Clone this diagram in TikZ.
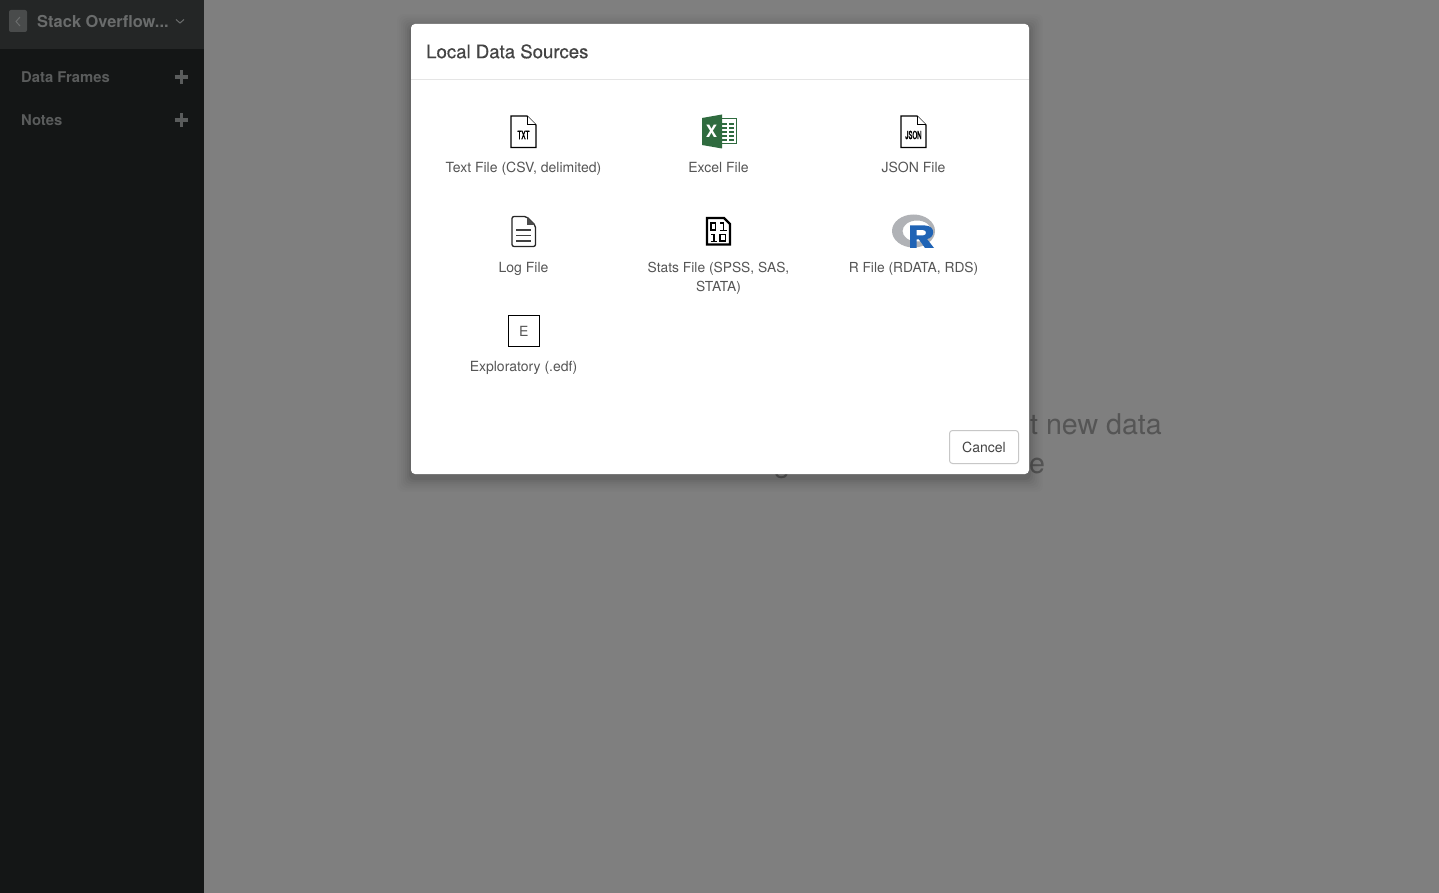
\documentclass[tikz,border=0pt]{standalone}
\usepackage{fontspec}
\setmainfont{TeX Gyre Heros}
\newfontfamily\narrowfont[FakeStretch=0.55,FakeBold=2]{TeX Gyre Heros}
\newfontfamily\semifont[FakeBold=0.5]{TeX Gyre Heros}
\definecolor{bgback}{HTML}{7F7F7F}
\definecolor{sidebar}{HTML}{141616}
\definecolor{sidetop}{HTML}{242626}
\definecolor{sidetxt}{HTML}{5A5C5C}
\definecolor{toptxt}{HTML}{6A6C6C}
\definecolor{backbtn}{HTML}{494B4B}
\definecolor{ghost}{HTML}{555555}
\definecolor{ink}{HTML}{555555}
\definecolor{titleink}{HTML}{444444}
\definecolor{rule}{HTML}{E5E5E5}
\definecolor{xlgreen}{HTML}{2F6B3F}
\definecolor{rgrey}{HTML}{B0B2B6}
\definecolor{rblue}{HTML}{1F63B5}
\tikzset{
  x=1pt,y=-1pt,
  lab/.style={font=\fontsize{14}{19}\selectfont,text=ink,align=center,inner sep=0pt,anchor=base},
  side/.style={font=\fontsize{14.8}{18}\selectfont\bfseries,text=sidetxt,inner sep=0pt,anchor=base west},
  plus/.style={line width=3.4pt,draw=sidetxt},
  doc/.style={draw=black,line width=1.3pt,fill=white,line join=miter},
  docfold/.style={draw=black,line width=1pt,fill=white},
  ghosttxt/.style={font=\fontsize{28.6}{36}\selectfont,text=ghost,inner sep=0pt,anchor=base},
  icontxt/.style={font=\fontsize{11.5}{12}\narrowfont,inner sep=0pt,anchor=center,text=black}
}
\begin{document}
\begin{tikzpicture}
\useasboundingbox (0,0) rectangle (1439,893);
\fill[bgback] (0,0) rectangle (1439,893);
% sidebar
\fill[sidebar] (0,0) rectangle (204,893);
\fill[sidetop] (0,0) rectangle (204,49);
\fill[backbtn,rounded corners=2pt] (9,10) rectangle (27,32);
\draw[toptxt,line width=1pt] (20,17) -- (16,21.5) -- (20,26);
\node[font=\fontsize{16.4}{20}\selectfont\bfseries,text=toptxt,inner sep=0pt,anchor=base west] (proj) at (37,27.8) {Stack Overflow...};
\draw[toptxt,line width=1pt] (176,19.5) -- (180,23) -- (184,19.5);
\node[side] (df) at (21,82.8) {Data Frames};
\node[side] (notes) at (21,125.8) {Notes};
\draw[plus] (174.5,77) -- (188,77) (181.2,70.2) -- (181.2,83.8);
\draw[plus] (174.5,120) -- (188,120) (181.2,113.2) -- (181.2,126.8);
% background message partly behind the dialog
\node[ghosttxt,anchor=base east] (msg1) at (1162,434.5) {t new data};
\node[ghosttxt] (msg2) at (782,472) {g};
\node[ghosttxt] (msg3) at (1037,473.5) {e};
% shadow
\foreach \d/\o in {14/0.012,12/0.016,10/0.02,8/0.025,6/0.03,4/0.04,2/0.05}{
  \fill[black,opacity=\o,rounded corners=6pt] (411-\d,24-\d+4) rectangle (1029+\d,474+\d+4);
}
% dialog
\fill[white,rounded corners=4pt] (411,24) rectangle (1029,474);
\draw[rule,line width=1pt] (411,79.5) -- (1029,79.5);
\node[font=\fontsize{18.6}{22}\semifont,text=titleink,inner sep=0pt,anchor=base west] (title) at (426,58.2) {Local Data Sources};
% TXT icon
\draw[doc] (511,116) -- (527,116) -- (536,125) -- (536,147.5) -- (511,147.5) -- cycle;
\draw[docfold] (527,116) -- (527,125) -- (536,125);
\node[icontxt] at (523.5,135) {TXT};
\node[lab] (txt) at (523.5,172.8) {Text File (CSV, delimited)};
% Excel icon
\fill[white,draw=xlgreen,line width=1pt] (719,119) rectangle (736,144);
\foreach \yy in {124,128,132,136,140}{
  \draw[xlgreen,line width=1.8pt] (722,\yy) -- (727,\yy) (729,\yy) -- (734,\yy);
}
\fill[xlgreen] (702,118) -- (722,114.5) -- (722,148.5) -- (702,145) -- cycle;
\node[font=\fontsize{17}{18}\selectfont\bfseries,text=white,inner sep=0pt,anchor=center] at (711.5,131.5) {X};
\node[lab] (xl) at (718.5,172.8) {Excel File};
% JSON icon
\draw[doc] (901,116) -- (917,116) -- (926,125) -- (926,147.5) -- (901,147.5) -- cycle;
\draw[docfold] (917,116) -- (917,125) -- (926,125);
\node[icontxt,font=\fontsize{11}{12}\narrowfont] at (913.5,135) {JSON};
\node[lab] (json) at (913.5,172.8) {JSON File};
% Log icon
\draw[black!85,line width=1.3pt,rounded corners=2pt,fill=white] (512,216.5) -- (526.5,216.5) -- (535.5,225.5) -- (535.5,246.5) -- (512,246.5) -- cycle;
\fill[black!70] (527,217) -- (535,225) -- (527,225) -- cycle;
\foreach \yy in {230,235.5,241}{
  \draw[black!75,line width=1.1pt] (516,\yy) -- (531,\yy);
}
\node[lab] (log) at (523.5,272.8) {Log File};
% Stats icon
\draw[black,line width=2.4pt,fill=white,line join=miter] (707,218) -- (724,218) -- (730,224) -- (730,244.5) -- (707,244.5) -- cycle;
\draw[black,line width=1.6pt] (711,223) rectangle (715.5,230);
\draw[black,line width=1.6pt] (720,234.5) rectangle (725.5,241);
\draw[black,line width=1.7pt] (720,223) -- (723.5,223) -- (723.5,230.5) (720,230.5) -- (727,230.5);
\draw[black,line width=1.7pt] (711,234.5) -- (714,234.5) -- (714,241.5) (710.5,241.5) -- (717,241.5);
\node[lab,font=\fontsize{13.8}{19}\selectfont] (stats) at (718.5,291.3) {Stats File (SPSS, SAS,\\STATA)};
% R icon
\fill[rgrey,even odd rule] (913.5,231) ellipse [x radius=21.5, y radius=16.5] (917,231) ellipse [x radius=14.5, y radius=10.5];
\fill[rblue,even odd rule] (910,225.5) -- (925,225.5) .. controls (936,225.5) and (935,238) .. (927,239) -- (934,248) -- (925,248) -- (919,239.5) -- (916.5,239.5) -- (916.5,248) -- (910,248) -- cycle
  (916.5,230) -- (916.5,235.5) -- (923,235.5) .. controls (927,235.5) and (927,230) .. (923,230) -- cycle;
\node[lab,font=\fontsize{13.8}{19}\selectfont] (rf) at (913.5,272.8) {R File (RDATA, RDS)};
% Exploratory icon
\node[draw=black,line width=1.1pt,minimum width=31pt,minimum height=31pt,inner sep=0pt,fill=white,font=\fontsize{14}{16}\selectfont,text=ink] (edf) at (523.8,331) {E};
\node[lab] (edflab) at (523.5,371.3) {Exploratory (.edf)};
% cancel
\node[draw=black!22,line width=1pt,rounded corners=3pt,minimum width=69pt,minimum height=33pt,inner sep=0pt,fill=white,font=\fontsize{14}{16}\selectfont,text=titleink] (cancel) at (984,447) {Cancel};
\end{tikzpicture}
\end{document}
